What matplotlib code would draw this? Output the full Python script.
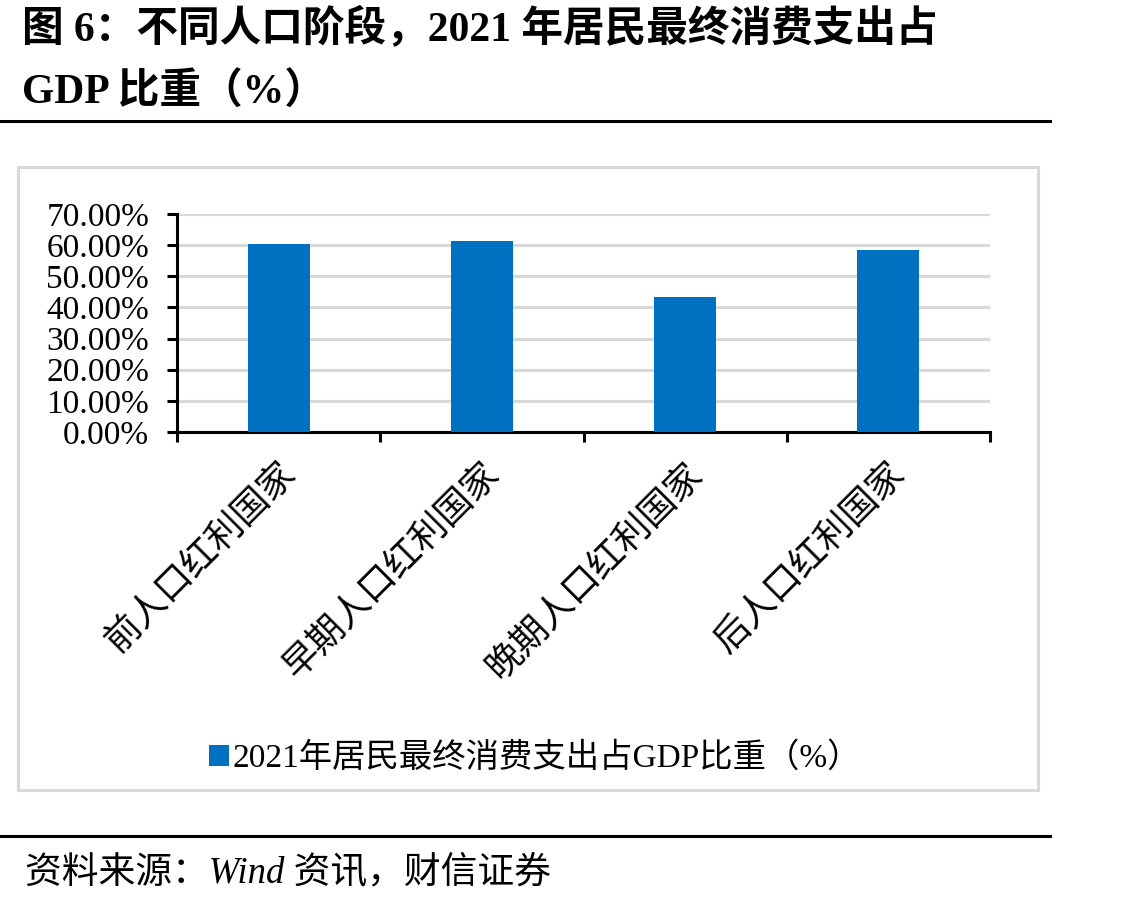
import matplotlib
matplotlib.use("Agg")
import matplotlib.pyplot as plt
from matplotlib.patches import Rectangle
from matplotlib.lines import Line2D
import numpy as np

# data
categories = ["前人口红利国家", "早期人口红利国家", "晚期人口红利国家", "后人口红利国家"]
consumption_share = [60.4, 61.3, 43.4, 58.4]
y_ticks = [0, 10, 20, 30, 40, 50, 60, 70]
series_name = "2021年居民最终消费支出占GDP比重（%）"
title_lines = ["图 6：不同人口阶段，2021 年居民最终消费支出占", "GDP 比重（%）"]
source_text = "资料来源：Wind 资讯，财信证券"

FONTS = ["Liberation Serif", "Noto Sans CJK SC"]
plt.rcParams["font.family"] = FONTS

W, H = 1132, 905
fig = plt.figure(figsize=(W / 100, H / 100), dpi=100)


def fx(px):
    return px / W


def fy(py):
    return 1 - py / H


# title
fig.text(fx(22), fy(28), title_lines[0], fontsize=30, fontweight="bold", va="center", ha="left")
fig.text(fx(22), fy(93), title_lines[1], fontsize=30, fontweight="bold", va="center", ha="left")

# separator lines
fig.add_artist(Line2D([0, fx(1050)], [fy(121), fy(121)], color="black", lw=2.2))
fig.add_artist(Line2D([0, fx(1050)], [fy(836), fy(836)], color="black", lw=2.2))

# chart frame
fig.add_artist(Rectangle((fx(18), fy(790)), fx(1038) - fx(18), fy(167) - fy(790),
                         fill=False, edgecolor="#D9D9D9", lw=2.2))

# axes
ax = fig.add_axes([fx(177), fy(432), fx(990) - fx(177), fy(214) - fy(432)])
x = np.arange(len(categories))
ax.bar(x, consumption_share, width=0.305, color="#0070C0", zorder=3, label=series_name)

ax.set_xlim(-0.5, len(categories) - 0.5)
ax.set_ylim(0, 70)
ax.set_yticks(y_ticks)
ax.set_yticklabels([f"{v:.2f}%" for v in y_ticks], fontsize=24)
ax.yaxis.grid(True, color="#D9D9D9", lw=2.2, zorder=0)
ax.set_axisbelow(True)

ax.set_xticks(x)
ax.set_xticklabels(categories, rotation=45, ha="right", va="top",
                   rotation_mode="anchor", fontsize=26)
ax.tick_params(axis="x", which="major", length=0, pad=18)
ax.set_xticks(np.arange(-0.5, len(categories)), minor=True)
ax.tick_params(axis="x", which="minor", length=7, width=2.2, direction="out")
ax.tick_params(axis="y", length=7, width=2.2, direction="out", pad=13)

for side in ["top", "right"]:
    ax.spines[side].set_visible(False)
for side in ["left", "bottom"]:
    ax.spines[side].set_linewidth(2.2)

# legend
fig.legend(loc="center", bbox_to_anchor=(fx(535), fy(758)), frameon=False,
           fontsize=24, handlelength=0.6, handleheight=0.6, handletextpad=0.1)

# source
fig.text(fx(25), fy(873), source_text, fontsize=26.5, style="italic", va="center", ha="left")

fig.savefig("out.png", dpi=100)
